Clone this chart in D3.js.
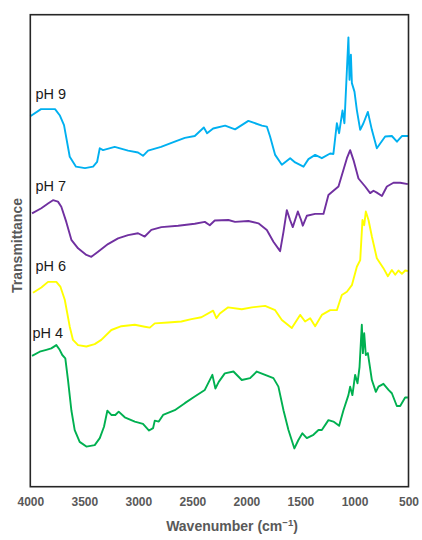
<!DOCTYPE html>
<html lang="en">
<head>
    <meta charset="UTF-8">
    <title>FTIR Transmittance</title>
    <style>
        body { margin: 0; background: #fff; }
        svg text { font-family: "Liberation Sans", Arial, sans-serif; }
    </style>
</head>
<body>
    <div id="chart"></div>

    <script src="https://d3js.org/d3.v7.min.js"></script>
    <script>
        // [wavenumber (cm-1), transmittance (a.u., offset per curve)]
        const ph9 = [
            [4000, 78.5], [3901, 80.0], [3771, 80.0], [3728, 78.7], [3688, 76.6], [3635, 69.9],
            [3577, 67.8], [3494, 67.5], [3419, 67.8], [3382, 68.8], [3357, 71.7], [3327, 71.3],
            [3219, 72.0], [3095, 71.2], [3003, 70.8], [2957, 70.1], [2910, 71.2], [2790, 72.0],
            [2663, 73.1], [2570, 73.9], [2478, 74.3], [2394, 76.1], [2364, 74.9], [2308, 75.9],
            [2197, 76.5], [2105, 75.7], [1982, 77.5], [1857, 76.5], [1811, 76.3], [1781, 74.2],
            [1734, 70.3], [1672, 68.2], [1595, 69.6], [1549, 68.7], [1472, 67.8], [1426, 69.4],
            [1364, 70.3], [1302, 69.6], [1225, 70.6], [1195, 70.5], [1163, 77.0], [1142, 74.9],
            [1111, 79.7], [1093, 77.0], [1056, 95.2], [1046, 86.2], [1033, 91.5], [1024, 85.5],
            [1000, 83.7], [978, 79.8], [947, 75.6], [917, 77.0], [876, 79.4], [839, 75.6],
            [793, 71.7], [716, 74.2], [654, 74.3], [607, 73.1], [561, 74.3], [503, 74.3]
        ];

        const ph7 = [
            [3984, 57.9], [3898, 59.0], [3836, 60.0], [3790, 60.7], [3744, 60.4], [3713, 59.3],
            [3667, 56.1], [3620, 52.3], [3558, 50.5], [3481, 49.1], [3435, 48.7], [3373, 49.8],
            [3281, 51.4], [3188, 52.6], [3095, 53.3], [3003, 53.7], [2941, 53.0], [2880, 54.4],
            [2787, 55.0], [2632, 55.3], [2478, 55.7], [2385, 56.1], [2339, 55.4], [2293, 56.4],
            [2167, 56.5], [2105, 56.1], [1982, 56.3], [1889, 55.8], [1811, 54.4], [1750, 51.9],
            [1688, 49.9], [1657, 54.0], [1626, 58.6], [1596, 56.5], [1571, 55.0], [1524, 58.3],
            [1494, 56.5], [1478, 55.3], [1441, 57.4], [1364, 57.8], [1287, 57.8], [1241, 61.8],
            [1195, 62.7], [1148, 63.6], [1117, 66.0], [1070, 69.6], [1040, 71.3], [1009, 69.2],
            [963, 65.3], [901, 63.6], [855, 62.2], [824, 62.7], [793, 62.3], [746, 61.6],
            [700, 63.6], [639, 64.4], [577, 64.4], [506, 64.1]
        ];

        const ph6 = [
            [3975, 41.1], [3898, 42.2], [3836, 43.4], [3759, 43.4], [3722, 42.4], [3681, 39.6],
            [3635, 33.9], [3605, 31.1], [3558, 30.0], [3481, 29.7], [3404, 30.2], [3343, 31.1],
            [3250, 33.2], [3157, 34.0], [3033, 34.3], [2941, 33.9], [2894, 33.7], [2848, 34.6],
            [2725, 34.8], [2602, 35.0], [2509, 35.5], [2417, 35.9], [2308, 37.3], [2278, 35.7],
            [2246, 36.7], [2169, 38.0], [2043, 37.6], [1950, 38.0], [1827, 38.3], [1734, 37.4],
            [1672, 35.3], [1580, 33.6], [1503, 36.4], [1457, 35.0], [1410, 35.7], [1364, 34.0],
            [1302, 36.4], [1225, 37.4], [1163, 37.4], [1117, 40.6], [1070, 41.3], [1024, 42.7],
            [978, 46.6], [947, 48.0], [926, 56.5], [910, 55.4], [895, 58.3], [870, 56.5],
            [839, 53.0], [793, 48.4], [732, 46.3], [691, 44.6], [654, 45.9], [623, 44.9],
            [593, 45.8], [561, 45.1], [531, 45.8], [506, 45.7]
        ];

        const ph4 = [
            [3984, 27.7], [3913, 28.6], [3852, 29.0], [3806, 29.3], [3759, 30.0], [3728, 29.0],
            [3704, 27.9], [3676, 27.2], [3651, 22.6], [3620, 16.2], [3589, 12.0], [3543, 9.5],
            [3481, 8.5], [3404, 8.8], [3357, 10.3], [3318, 12.7], [3287, 16.1], [3250, 15.2],
            [3213, 15.2], [3182, 15.9], [3126, 14.7], [3033, 13.8], [2957, 13.3], [2901, 11.9],
            [2864, 12.4], [2848, 14.0], [2811, 13.8], [2771, 15.2], [2663, 16.2], [2570, 17.7],
            [2478, 19.1], [2385, 20.5], [2315, 23.7], [2287, 20.8], [2256, 22.2], [2200, 24.0],
            [2120, 24.4], [2043, 22.6], [1966, 23.0], [1904, 24.4], [1827, 23.7], [1750, 23.0],
            [1704, 21.2], [1657, 16.2], [1611, 12.0], [1556, 8.1], [1519, 9.9], [1482, 11.3],
            [1441, 10.3], [1380, 11.0], [1333, 12.0], [1302, 12.0], [1241, 14.1], [1195, 13.8],
            [1142, 12.9], [1102, 16.2], [1056, 19.4], [1040, 21.2], [1019, 19.4], [994, 23.7],
            [972, 21.9], [953, 25.4], [932, 34.3], [922, 28.3], [910, 32.5], [895, 27.9],
            [876, 28.3], [839, 22.6], [802, 20.1], [778, 21.2], [732, 21.8], [685, 20.5],
            [654, 19.8], [608, 17.1], [577, 17.1], [531, 18.9], [506, 18.9]
        ];

        const seriesNames = ["pH 9", "pH 7", "pH 6", "pH 4"];
        const seriesColors = ["#00b0f0", "#7030a0", "#ffff00", "#00b050"];
        const labelValues = [82.1, 62.7, 45.6, 31.6];   // label baselines, same units as curves
        const xTicks = [4000, 3500, 3000, 2500, 2000, 1500, 1000, 500];

        const allSeries = [ph9, ph7, ph6, ph4];

        const width = 422;
        const height = 540;
        const margin = { top: 14.7, right: 13.5, bottom: 53.3, left: 30.3 };

        const svg = d3.select("#chart")
            .append("svg")
            .attr("width", width)
            .attr("height", height);

        const x = d3.scaleLinear()
            .domain([4000, 500])
            .range([margin.left, width - margin.right]);

        const y = d3.scaleLinear()
            .domain([0, 100])
            .range([height - margin.bottom, margin.top]);

        const line = d3.line()
            .x(d => x(d[0]))
            .y(d => y(d[1]));

        // spectra
        svg.selectAll(".spectrum")
            .data(allSeries)
            .enter()
            .append("path")
            .attr("class", "spectrum")
            .attr("d", line)
            .attr("fill", "none")
            .attr("stroke", (d, i) => seriesColors[i])
            .attr("stroke-width", 1.9)
            .attr("stroke-linejoin", "round");

        // curve labels
        svg.selectAll(".label")
            .data(seriesNames)
            .enter()
            .append("text")
            .attr("class", "label")
            .attr("x", (d, i) => i === 3 ? 32.5 : 35.5)
            .attr("y", (d, i) => y(labelValues[i]))
            .attr("font-size", "14.5px")
            .attr("fill", "#1a1a1a")
            .text(d => d);

        // frame
        svg.append("rect")
            .attr("x", x(4000))
            .attr("y", y(100))
            .attr("width", x(500) - x(4000))
            .attr("height", y(0) - y(100))
            .attr("fill", "none")
            .attr("stroke", "#262626")
            .attr("stroke-width", 1.6);

        // x axis labels only
        const xAxis = svg.append("g")
            .attr("transform", `translate(0,${y(0)})`)
            .call(d3.axisBottom(x).tickValues(xTicks).tickSize(0).tickPadding(11).tickFormat(d3.format("d")));

        xAxis.select(".domain").remove();
        xAxis.selectAll("text")
            .attr("font-family", "Liberation Sans, Arial, sans-serif")
            .attr("font-size", "12px")
            .attr("font-weight", "bold")
            .attr("fill", "#595959");

        const xTitle = svg.append("text")
            .attr("x", 232)
            .attr("y", 530.5)
            .attr("text-anchor", "middle")
            .attr("font-size", "14px")
            .attr("font-weight", "bold")
            .attr("fill", "#595959");
        xTitle.append("tspan").text("Wavenumber (cm");
        xTitle.append("tspan").attr("dy", -5).attr("font-size", "9.5px").text("\u22121");
        xTitle.append("tspan").attr("dy", 5).text(")");

        svg.append("text")
            .attr("transform", "translate(21.5,245.5) rotate(-90)")
            .attr("text-anchor", "middle")
            .attr("font-size", "14px")
            .attr("font-weight", "bold")
            .attr("fill", "#595959")
            .text("Transmittance");
    </script>
</body>
</html>
